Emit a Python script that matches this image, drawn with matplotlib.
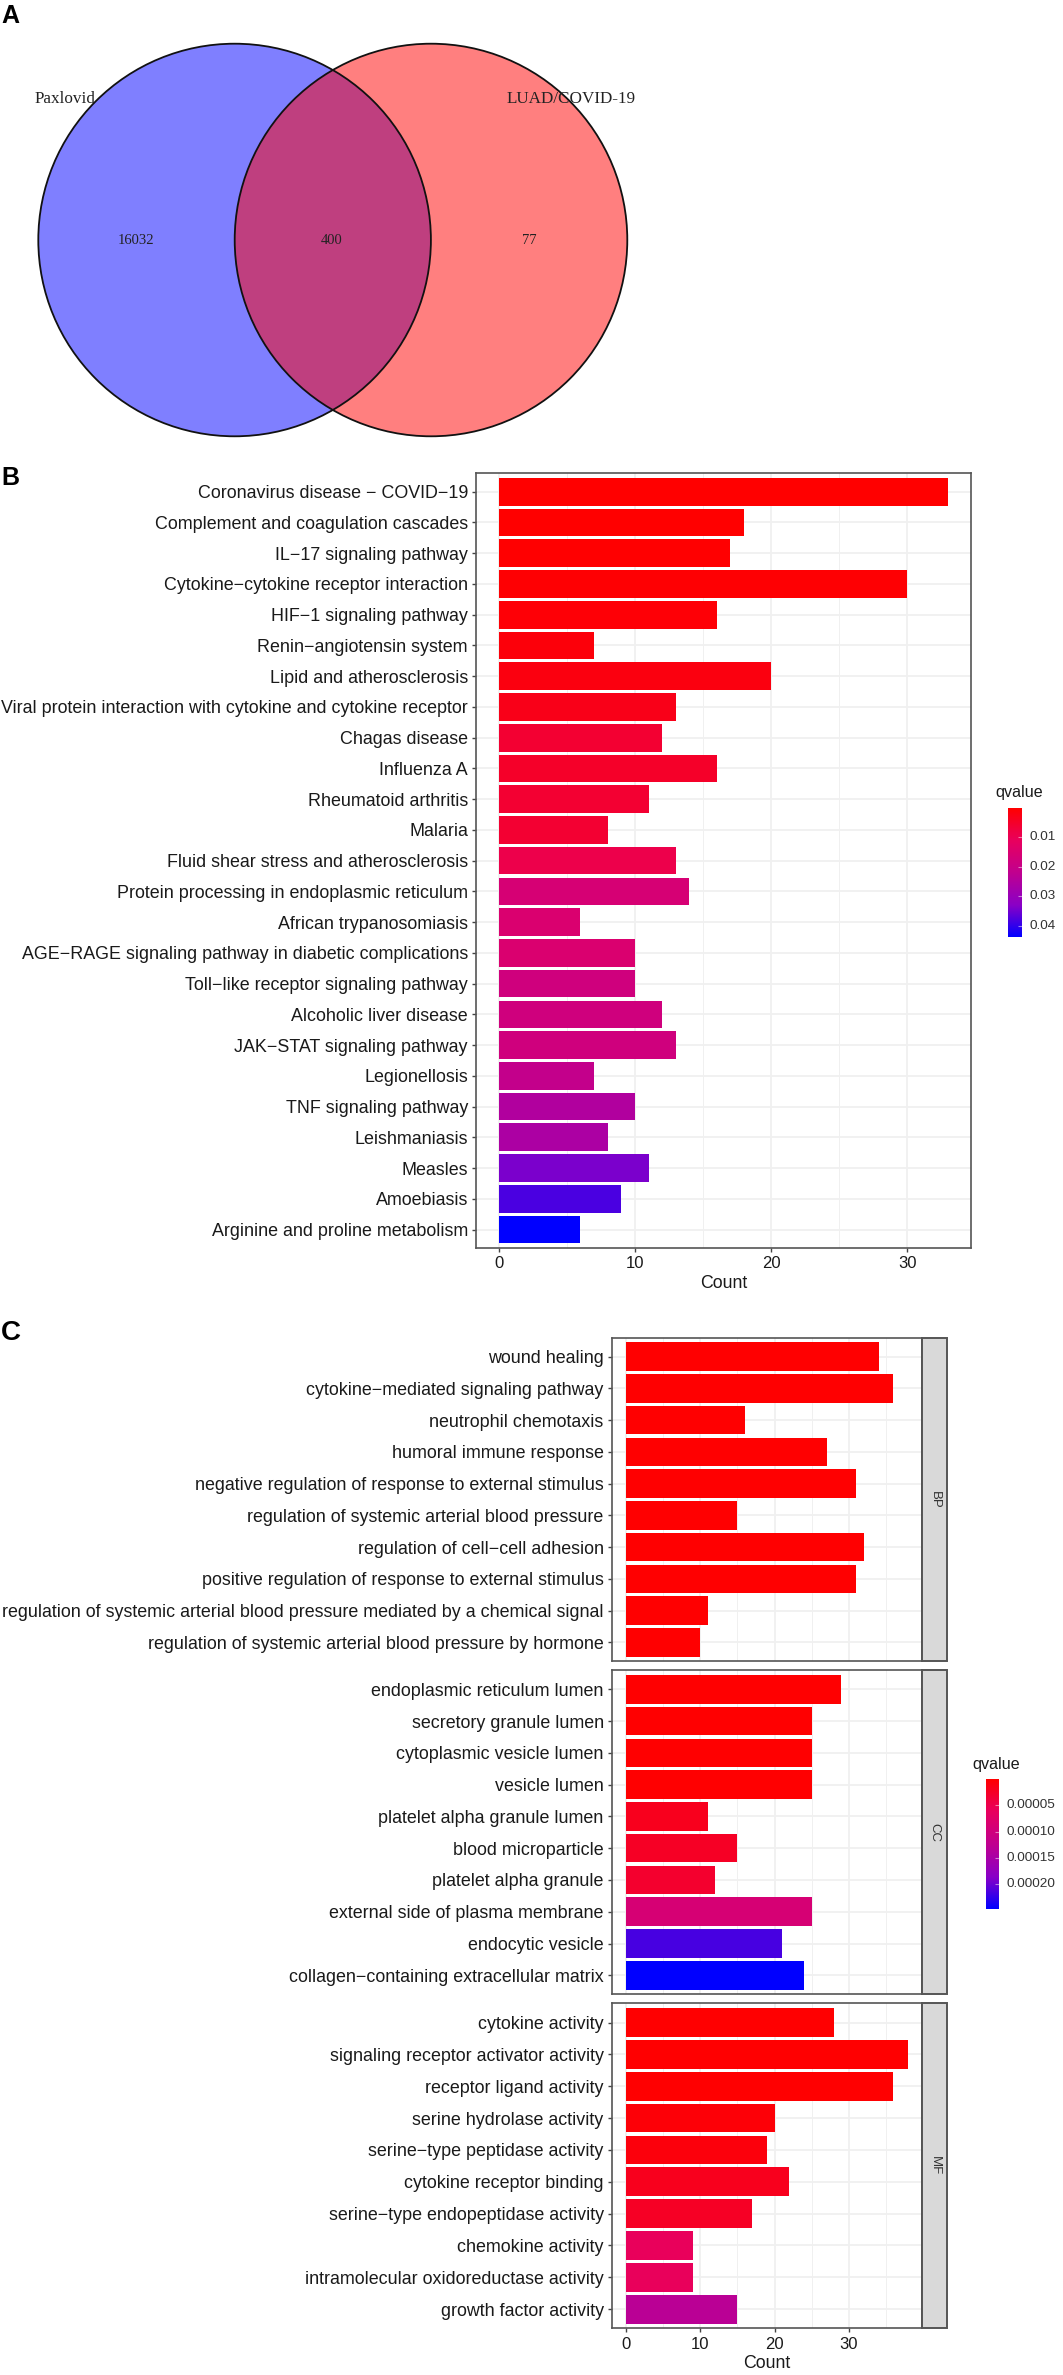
import matplotlib
matplotlib.use("Agg")
import matplotlib.pyplot as plt
from matplotlib.colors import LinearSegmentedColormap, Normalize
from matplotlib.cm import ScalarMappable
from matplotlib.patches import Circle, Rectangle
from matplotlib.ticker import FixedLocator

W, H = 1063, 2375
plt.rcParams['font.family'] = ['Liberation Sans', 'DejaVu Sans']

# Venn data
venn_names = ["Paxlovid", "LUAD/COVID-19"]
venn_counts = [16032, 400, 77]

# Panel B
kegg_terms = ["Coronavirus disease \u2212 COVID\u221219", "Complement and coagulation cascades",
              "IL\u221217 signaling pathway", "Cytokine\u2212cytokine receptor interaction",
              "HIF\u22121 signaling pathway", "Renin\u2212angiotensin system", "Lipid and atherosclerosis",
              "Viral protein interaction with cytokine and cytokine receptor", "Chagas disease", "Influenza A",
              "Rheumatoid arthritis", "Malaria", "Fluid shear stress and atherosclerosis",
              "Protein processing in endoplasmic reticulum", "African trypanosomiasis",
              "AGE\u2212RAGE signaling pathway in diabetic complications", "Toll\u2212like receptor signaling pathway",
              "Alcoholic liver disease", "JAK\u2212STAT signaling pathway", "Legionellosis", "TNF signaling pathway",
              "Leishmaniasis", "Measles", "Amoebiasis", "Arginine and proline metabolism"]
kegg_counts = [33, 18, 17, 30, 16, 7, 20, 13, 12, 16, 11, 8, 13, 14, 6, 10, 10, 12, 13, 7, 10, 8, 11, 9, 6]
kegg_q = [0.0002, 0.0003, 0.0005, 0.0007, 0.001, 0.0015, 0.002, 0.003, 0.006, 0.005, 0.006, 0.006, 0.009,
          0.016, 0.015, 0.015, 0.018, 0.018, 0.018, 0.021, 0.025, 0.026, 0.034, 0.038, 0.0438]

# Panel C
bp_terms = ["wound healing", "cytokine\u2212mediated signaling pathway", "neutrophil chemotaxis",
            "humoral immune response", "negative regulation of response to external stimulus",
            "regulation of systemic arterial blood pressure", "regulation of cell\u2212cell adhesion",
            "positive regulation of response to external stimulus",
            "regulation of systemic arterial blood pressure mediated by a chemical signal",
            "regulation of systemic arterial blood pressure by hormone"]
bp_counts = [34, 36, 16, 27, 31, 15, 32, 31, 11, 10]
bp_q = [1e-6] * 10
cc_terms = ["endoplasmic reticulum lumen", "secretory granule lumen", "cytoplasmic vesicle lumen", "vesicle lumen",
            "platelet alpha granule lumen", "blood microparticle", "platelet alpha granule",
            "external side of plasma membrane", "endocytic vesicle", "collagen\u2212containing extracellular matrix"]
cc_counts = [29, 25, 25, 25, 11, 15, 12, 25, 21, 24]
cc_q = [1e-6, 1e-6, 1e-6, 1e-6, 2e-5, 2.5e-5, 3e-5, 9e-5, 2.15e-4, 2.47e-4]
mf_terms = ["cytokine activity", "signaling receptor activator activity", "receptor ligand activity",
            "serine hydrolase activity", "serine\u2212type peptidase activity", "cytokine receptor binding",
            "serine\u2212type endopeptidase activity", "chemokine activity", "intramolecular oxidoreductase activity",
            "growth factor activity"]
mf_counts = [28, 38, 36, 20, 19, 22, 17, 9, 9, 15]
mf_q = [1e-6, 1e-6, 1e-6, 5e-6, 8e-6, 2e-5, 2.5e-5, 6e-5, 6e-5, 1.3e-4]

cmap = LinearSegmentedColormap.from_list("rb", ["#FF0000", "#E8005E", "#C0008F", "#8A00C6", "#0000FF"])
BORDER = "#555555"
GRID = "#F0F0F0"
TXT = "#1A1A1A"


def add_ax(fig, l, t, r, b, **kw):
    return fig.add_axes([l / W, 1 - b / H, (r - l) / W, (b - t) / H], **kw)


def txt(fig, x, y, s, **kw):
    kw.setdefault("va", "center")
    kw.setdefault("zorder", 20)
    return fig.text(x / W, 1 - y / H, s, **kw)


def bars(ax, terms, counts, q, norm, xlim, major, minor, fs, show_x):
    y = list(range(len(terms)))
    ax.barh(y, counts, height=0.9, color=cmap(norm(q)), zorder=3)
    ax.set_xlim(*xlim)
    ax.set_ylim(len(terms) - 0.4, -0.6)
    ax.set_yticks(y)
    ax.set_yticklabels(terms, fontsize=fs, color=TXT)
    ax.xaxis.set_major_locator(FixedLocator(major))
    ax.xaxis.set_minor_locator(FixedLocator(minor))
    ax.grid(True, which="major", color=GRID, lw=1.3, zorder=0)
    ax.grid(True, which="minor", axis="x", color=GRID, lw=0.7, zorder=0)
    ax.set_axisbelow(True)
    ax.tick_params(axis="y", length=3, width=1, color="#444444", pad=3)
    ax.tick_params(axis="x", which="major", length=3 if show_x else 0, width=1, color="#444444", pad=3,
                   labelsize=12, labelcolor=TXT, labelbottom=show_x)
    ax.tick_params(axis="x", which="minor", length=0)
    for s in ax.spines.values():
        s.set_color(BORDER)
        s.set_linewidth(1.2)


def qbar(fig, l, t, r, b, norm, ticks, labels, title, tx, ty, lx):
    cax = add_ax(fig, l, t, r, b)
    cb = fig.colorbar(ScalarMappable(norm=norm, cmap=cmap), cax=cax)
    cb.outline.set_visible(False)
    cb.ax.invert_yaxis()
    cb.set_ticks(ticks)
    cb.set_ticklabels([])
    cb.ax.tick_params(direction="in", color="#FFFFFF80", length=3, width=0.8)
    for v, s in zip(ticks, labels):
        yp = t + (b - t) * (v - norm.vmin) / (norm.vmax - norm.vmin)
        txt(fig, lx, yp, s, ha="left", fontsize=9.7, color="#333333")
    txt(fig, tx, ty, title, ha="left", fontsize=11.6, color=TXT)


fig = plt.figure(figsize=(W / 100, H / 100), dpi=100, facecolor="white")

# Panel A
ov = fig.add_axes([0, 0, 1, 1])
ov.set_xlim(0, W)
ov.set_ylim(H, 0)
ov.axis("off")
ov.add_patch(Circle((234.6, 240), 196.3, fc=(0, 0, 1, 0.5), ec="none"))
ov.add_patch(Circle((431, 240), 196.3, fc=(1, 0, 0, 0.5), ec="none"))
ov.add_patch(Circle((234.6, 240), 196.3, fc="none", ec="#111111", lw=1.3))
ov.add_patch(Circle((431, 240), 196.3, fc="none", ec="#111111", lw=1.3))
serif = dict(family="Liberation Serif", color="#222222")
txt(fig, 35, 99, venn_names[0], ha="left", fontsize=12.3, **serif)
txt(fig, 507, 99, venn_names[1], ha="left", fontsize=12.3, **serif)
for x, c in zip((136, 332, 529), venn_counts):
    txt(fig, x, 241, str(c), ha="center", fontsize=10.5, **serif)

for x, y, s, fs in ((1, 16, "A", 18), (1, 478, "B", 18), (1, 1333.5, "C", 20)):
    txt(fig, x, y, s, ha="left", fontsize=fs, fontweight="bold", color="black")

# Panel B
normB = Normalize(0.0002, 0.0438)
axB = add_ax(fig, 476.3, 473.3, 970.7, 1248)
bars(axB, kegg_terms, kegg_counts, kegg_q, normB, (-1.65, 34.65), [0, 10, 20, 30], [5, 15, 25], 12.85, True)
txt(fig, 723.4, 1283.3, "Count", ha="center", fontsize=12.8, color=TXT)
qbar(fig, 1008.3, 808.3, 1022.3, 937.3, normB, [0.01, 0.02, 0.03, 0.04], ["0.01", "0.02", "0.03", "0.04"],
     "qvalue", 995, 792.7, 1029.3)

# Panel C
normC = Normalize(0, 2.47e-4)
rows = [(1337.7, 1661.3, bp_terms, bp_counts, bp_q, "BP", False),
        (1670.2, 1994.4, cc_terms, cc_counts, cc_q, "CC", False),
        (2003.4, 2328.3, mf_terms, mf_counts, mf_q, "MF", True)]
for t, b, terms, counts, q, lab, show in rows:
    ax = add_ax(fig, 612, t, 922.3, b)
    bars(ax, terms, counts, q, normC, (-1.9, 39.9), [0, 10, 20, 30], [5, 15, 25, 35], 12.9, show)
    ov.add_patch(Rectangle((922.3, t), 25, b - t, fc="#D9D9D9", ec=BORDER, lw=1.4, zorder=5))
    txt(fig, 934.8, (t + b) / 2, lab, ha="center", rotation=-90, fontsize=9.5, color="#333333")
txt(fig, 766.8, 2363, "Count", ha="center", fontsize=12.8, color=TXT)
qbar(fig, 986.3, 1779, 999, 1909, normC, [5e-5, 1e-4, 1.5e-4, 2e-4], ["0.00005", "0.00010", "0.00015", "0.00020"],
     "qvalue", 972.7, 1765, 1006.7)
ov.set_zorder(5)

fig.savefig("out.png", dpi=100, facecolor="white")
